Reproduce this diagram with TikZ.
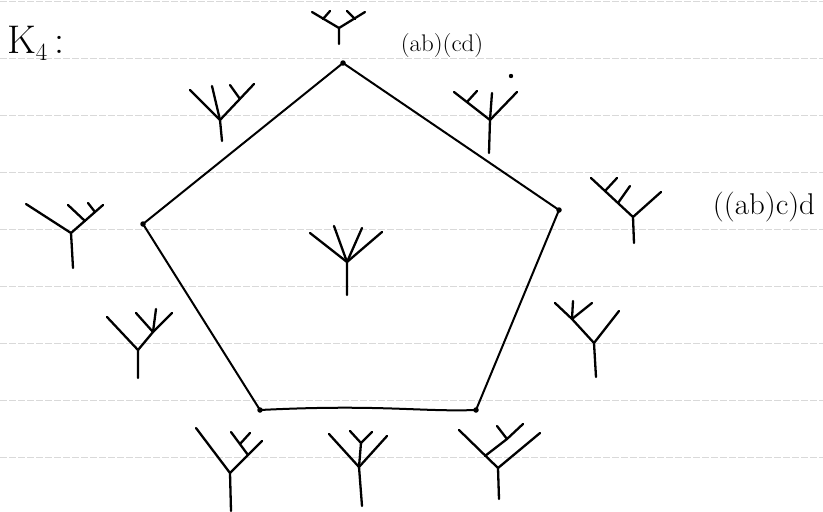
\documentclass[tikz,border=0pt]{standalone}
\usepackage{fontspec}
\usepackage{graphicx}
\begin{document}
\begin{tikzpicture}[x=1pt,y=-1pt,
  tree/.style={line width=2.3pt, line cap=round, line join=round},
  pedge/.style={line width=2pt, line cap=round},
  rule/.style={gray!30, line width=0.6pt, dash pattern=on 7pt off 2pt},
  vtx/.style={circle, fill, inner sep=0pt, minimum size=5.5pt},
  lbl/.style={inner sep=0pt}]
\useasboundingbox (0,0) rectangle (823,512);
% ruled paper
\foreach \yy in {1,58,...,457} \draw[rule] (0,\yy) -- (823,\yy);
% title
\node[lbl, anchor=base west] (title) at (7,53) {\fontsize{40}{42}\selectfont $\mathrm{K}_4$\,:};
% pentagon
\node[vtx] (v1) at (343,63) {};
\node[vtx] (v2) at (559,210) {};
\node[vtx] (v3) at (476,410) {};
\node[vtx] (v4) at (260,410) {};
\node[vtx] (v5) at (143,224) {};
\draw[pedge] (v1.center) -- (v2.center) -- (v3.center);
\draw[pedge] (v3.center) .. controls (420,412) and (380,404) .. (v4.center);
\draw[pedge] (v4.center) -- (v5.center) -- (v1.center);
% labels
\node[lbl] (l1) at (442,46) {\scalebox{1.04}[1]{\fontsize{24}{26}\selectfont (ab)(cd)}};
\node[lbl] (l2) at (764,207) {\scalebox{1.03}[1]{\fontsize{30}{32}\selectfont ((ab)c)d}};
% T1 top: (ab)(cd)
\draw[tree] (339,44) -- (339,28) -- (312,12);
\draw[tree] (339,28) -- (365,12);
\draw[tree] (323,19) -- (330,11);
\draw[tree] (355,19) -- (347,11);
% T2 upper left
\draw[tree] (222,141) -- (220,120) -- (190,90);
\draw[tree] (220,120) -- (212,86);
\draw[tree] (220,120) -- (254,84);
\draw[tree] (240,99) -- (230,85);
% T3 upper right
\draw[tree] (489,153) -- (490,120) -- (454,92);
\draw[tree] (467,102) -- (477,91);
\draw[tree] (490,120) -- (492,93);
\draw[tree] (490,120) -- (517,92);
\fill (511,76) circle (2.2pt);
% T4 right
\draw[tree] (634,243) -- (633,217) -- (591,178);
\draw[tree] (605,191) -- (617,178);
\draw[tree] (618,203) -- (630,186);
\draw[tree] (633,217) -- (661,192);
% T5 left
\draw[tree] (73,268) -- (72,250) -- (71,233) -- (26,204);
\draw[tree] (71,233) -- (103,205);
\draw[tree] (85,221) -- (68,205);
\draw[tree] (95,212) -- (88,203);
% T6 centre
\draw[tree] (347,295) -- (347,262) -- (310,233);
\draw[tree] (347,262) -- (334,226);
\draw[tree] (347,262) -- (362,228);
\draw[tree] (347,262) -- (382,232);
% T7 lower left
\draw[tree] (138,378) -- (138,350) -- (107,317);
\draw[tree] (138,350) -- (153,332) -- (136,313);
\draw[tree] (153,332) -- (156,309);
\draw[tree] (153,332) -- (172,313);
% T8 lower right
\draw[tree] (596,377) -- (594,343) -- (619,311);
\draw[tree] (594,343) -- (572,319) -- (555,303);
\draw[tree] (572,319) -- (573,301);
\draw[tree] (572,319) -- (592,303);
% T9 bottom left
\draw[tree] (231,511) -- (230,473) -- (196,428);
\draw[tree] (230,473) -- (262,441);
\draw[tree] (248,455) -- (231,432);
\draw[tree] (240,444) -- (250,433);
% T10 bottom middle
\draw[tree] (362,506) -- (359,467) -- (329,434);
\draw[tree] (359,467) -- (361,443) -- (350,431);
\draw[tree] (361,443) -- (372,432);
\draw[tree] (359,467) -- (387,436);
% T11 bottom right
\draw[tree] (499,499) -- (498,468) -- (459,430);
\draw[tree] (485,456) -- (507,439) -- (523,424);
\draw[tree] (507,439) -- (497,426);
\draw[tree] (498,468) -- (540,433);
\end{tikzpicture}
\end{document}
